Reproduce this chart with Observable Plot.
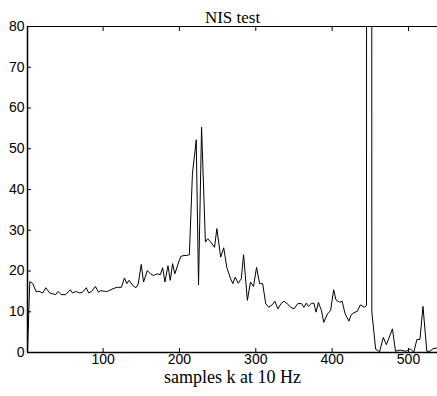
<!DOCTYPE html>
<html><head><meta charset="utf-8">
<script src="https://cdn.jsdelivr.net/npm/d3@7"></script>
<script src="https://cdn.jsdelivr.net/npm/@observablehq/plot@0.6"></script>
<style>body{margin:0;background:#fff}</style>
</head><body><div id="chart"></div>
<script>
const sampleK = [1, 4, 8, 12, 16, 21, 25, 30, 34, 38, 41, 45, 51, 57, 60, 65, 69, 73, 78, 81, 85, 90, 94, 97, 102, 106, 110, 115, 119, 124, 128, 131, 134, 139, 143, 146, 150, 153, 158, 162, 166, 171, 175, 178, 181, 185, 188, 191, 194, 199, 202, 206, 209, 213, 217, 222, 225, 229, 234, 237, 241, 246, 249, 254, 258, 262, 267, 270, 273, 277, 281, 284, 289, 293, 297, 301, 305, 309, 313, 317, 322, 325, 329, 333, 337, 341, 346, 350, 355, 360, 363, 366, 369, 373, 376, 379, 382, 386, 389, 394, 398, 402, 405, 410, 413, 417, 422, 425, 430, 433, 437, 442, 445, 446, 451, 452, 457, 460, 462, 467, 471, 479, 483, 489, 497, 502, 507, 511, 515, 519, 524, 528, 532, 537];
const nisValue = [0.2, 17.4, 16.9, 15.0, 15.0, 14.6, 15.9, 14.6, 14.4, 14.2, 15.0, 14.2, 14.2, 15.4, 14.6, 15.0, 14.6, 14.8, 15.9, 14.6, 15.0, 16.2, 14.8, 15.2, 15.0, 15.0, 15.4, 15.8, 16.0, 16.0, 18.3, 16.9, 17.7, 16.4, 15.9, 16.8, 21.6, 17.3, 20.1, 19.3, 18.9, 19.3, 19.1, 20.8, 17.3, 21.3, 17.7, 21.8, 19.3, 22.2, 23.6, 23.8, 23.8, 24.0, 43.8, 52.2, 16.6, 55.3, 27.1, 27.9, 27.1, 25.8, 30.4, 23.4, 25.7, 20.9, 18.1, 16.9, 18.5, 17.0, 18.1, 24.0, 12.8, 17.3, 16.2, 20.9, 16.9, 16.9, 12.0, 11.1, 11.8, 12.6, 10.7, 12.0, 12.6, 12.0, 11.1, 10.7, 12.0, 12.0, 11.1, 12.1, 11.3, 12.1, 12.1, 9.9, 12.3, 10.3, 7.4, 9.5, 10.3, 15.4, 12.9, 12.3, 12.6, 9.5, 7.7, 9.3, 9.9, 10.1, 11.7, 11.1, 11.5, 900, 900, 10.0, 0.8, 0.5, 0.1, 3.7, 1.9, 5.8, 0.3, 0.6, 0.3, 0.9, 0.1, 3.2, 3.2, 11.3, 0.3, 0.3, 0.9, 1.1];
const xTicks = [100, 200, 300, 400, 500];
const yTicks = [0, 10, 20, 30, 40, 50, 60, 70, 80];
const titleText = "NIS test";
const xLabelText = "samples k at 10 Hz";

const data = sampleK.map((k, i) => ({k, v: nisValue[i]}));

const chart = Plot.plot({
  width: 437, height: 396,
  marginLeft: 27, marginRight: 0, marginTop: 26, marginBottom: 44,
  style: {fontFamily: "'Liberation Sans', Arial, sans-serif", fontSize: "14px", color: "black", background: "white"},
  x: {domain: [1, 538]},
  y: {domain: [0, 80]},
  marks: [
    Plot.line(data, {x: "k", y: "v", stroke: "black", strokeWidth: 1, clip: true}),
    Plot.axisY({ticks: yTicks, tickSize: -4, tickPadding: 7, label: null, anchor: "left"}),
    Plot.axisX({ticks: xTicks, tickSize: -4, tickPadding: 6, label: null, anchor: "bottom"}),
    Plot.axisX({ticks: xTicks, tickSize: -4, tickFormat: () => "", label: null, anchor: "top"}),
    Plot.ruleX([1], {stroke: "black", strokeWidth: 1.5}),
    Plot.ruleY([0], {stroke: "black", strokeWidth: 1.3}),
    Plot.ruleY([80], {stroke: "black"}),
    Plot.text([titleText], {frameAnchor: "top", dy: -16, fontFamily: "'Liberation Serif', 'Times New Roman', serif", fontSize: 17}),
    Plot.text([xLabelText], {frameAnchor: "bottom", dy: 30, fontFamily: "'Liberation Serif', 'Times New Roman', serif", fontSize: 18})
  ]
});
document.getElementById("chart").appendChild(chart);
</script>
</body></html>
